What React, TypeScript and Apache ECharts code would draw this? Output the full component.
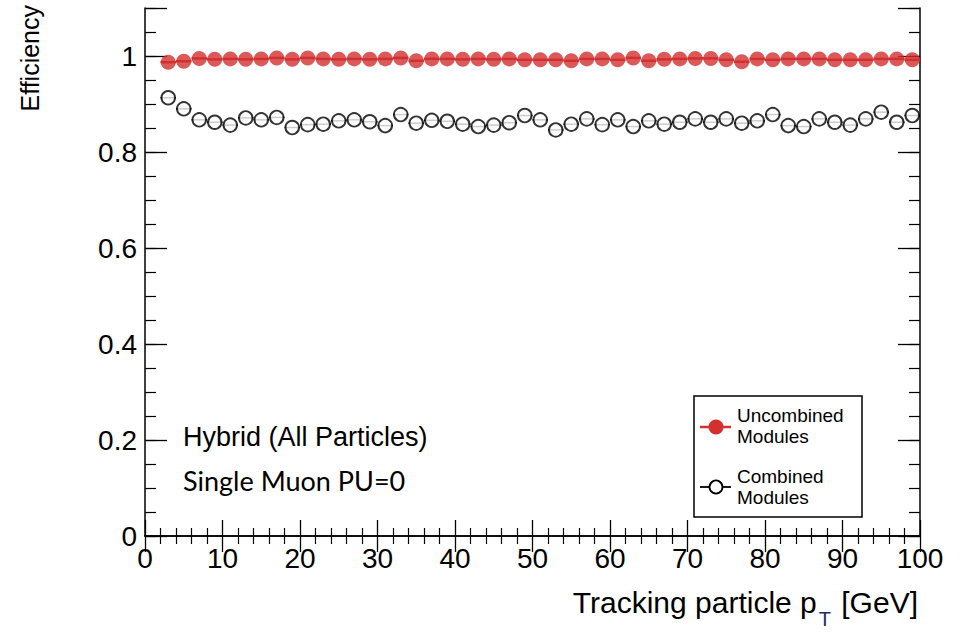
import React, { useEffect, useRef } from "react";
import * as echarts from "echarts";

const ptValues = [3, 5, 7, 9, 11, 13, 15, 17, 19, 21, 23, 25, 27, 29, 31, 33, 35, 37, 39, 41, 43, 45, 47, 49, 51, 53, 55, 57, 59, 61, 63, 65, 67, 69, 71, 73, 75, 77, 79, 81, 83, 85, 87, 89, 91, 93, 95, 97, 99];

const uncombined = [0.987, 0.989, 0.995, 0.993, 0.994, 0.993, 0.994, 0.996, 0.993, 0.996, 0.994, 0.993, 0.994, 0.993, 0.994, 0.996, 0.990, 0.994, 0.994, 0.993, 0.994, 0.993, 0.994, 0.992, 0.992, 0.992, 0.990, 0.994, 0.994, 0.992, 0.996, 0.990, 0.993, 0.994, 0.995, 0.995, 0.992, 0.988, 0.994, 0.992, 0.994, 0.994, 0.994, 0.992, 0.992, 0.992, 0.994, 0.994, 0.992];

const combined = [0.913, 0.890, 0.867, 0.862, 0.856, 0.871, 0.867, 0.872, 0.851, 0.857, 0.858, 0.865, 0.867, 0.863, 0.855, 0.878, 0.860, 0.866, 0.864, 0.858, 0.853, 0.856, 0.861, 0.876, 0.867, 0.846, 0.858, 0.869, 0.857, 0.867, 0.853, 0.865, 0.858, 0.862, 0.869, 0.862, 0.869, 0.860, 0.865, 0.878, 0.855, 0.853, 0.869, 0.862, 0.856, 0.869, 0.883, 0.862, 0.876];

const binHalfWidth = 1;
const xTicks = { min: 0, max: 100, interval: 10 };
const yTicks = { min: 0, max: 1.1, interval: 0.2, minorInterval: 0.05 };

const RED = "#d3302f";
const FONT = "Liberation Sans";

export default function App() {
  const ref = useRef<HTMLDivElement>(null);

  useEffect(() => {
    if (!ref.current) return;
    const chart = echarts.init(ref.current, null, { renderer: "svg" });

    const xyRed = ptValues.map((x, i) => [x, uncombined[i]]);
    const xyBlack = ptValues.map((x, i) => [x, combined[i]]);

    const errBar = (color: string, width: number) => (params: any, api: any) => {
      const x = api.value(0);
      const y = api.value(1);
      const p1 = api.coord([x - binHalfWidth, y]);
      const p2 = api.coord([x + binHalfWidth, y]);
      return {
        type: "line",
        shape: { x1: p1[0], y1: p1[1], x2: p2[0], y2: p2[1] },
        style: { stroke: color, lineWidth: width },
      };
    };

    const axisLine = { show: true, lineStyle: { color: "#000", width: 1.5 } };

    const xBase = {
      type: "value",
      min: xTicks.min,
      max: xTicks.max,
      interval: xTicks.interval,
      axisLine,
      axisTick: { show: true, inside: true, length: 16, lineStyle: { color: "#000", width: 1.3 } },
      minorTick: { show: true, splitNumber: 5, length: 8, lineStyle: { color: "#000", width: 1.2 } },
      splitLine: { show: false },
      minorSplitLine: { show: false },
    };

    const yMajor = {
      type: "value",
      min: yTicks.min,
      max: yTicks.max,
      interval: yTicks.interval,
      axisLine,
      axisTick: { show: true, inside: true, length: 22, lineStyle: { color: "#000", width: 1.3 } },
      splitLine: { show: false },
    };
    const yMinor = {
      type: "value",
      min: yTicks.min,
      max: yTicks.max,
      interval: yTicks.minorInterval,
      axisLine: { show: false },
      axisTick: { show: true, inside: true, length: 11, lineStyle: { color: "#000", width: 1.2 } },
      axisLabel: { show: false },
      splitLine: { show: false },
    };

    chart.setOption({
      animation: false,
      backgroundColor: "#fff",
      grid: { left: 145, right: 47, top: 8, bottom: 96, containLabel: false },
      xAxis: [
        {
          ...xBase,
          position: "bottom",
          axisLabel: { show: true, color: "#000", fontSize: 28, fontFamily: FONT, margin: 8 },
        },
        { ...xBase, position: "top", axisLabel: { show: false } },
      ],
      yAxis: [
        {
          ...yMajor,
          position: "left",
          axisLabel: {
            show: true,
            color: "#000",
            fontSize: 28,
            fontFamily: FONT,
            margin: 8,
            formatter: (v: number) => (v > 1.05 ? "" : String(Math.round(v * 10) / 10)),
          },
        },
        { ...yMinor, position: "left" },
        { ...yMajor, position: "right", axisLabel: { show: false } },
        { ...yMinor, position: "right" },
      ],
      series: [
        {
          type: "custom",
          name: "Combined bars",
          renderItem: errBar("#000", 1.5),
          data: xyBlack,
          z: 1,
        },
        {
          type: "scatter",
          name: "Combined Modules",
          data: xyBlack,
          symbol: "circle",
          symbolSize: 13.5,
          itemStyle: { color: "#fff", borderColor: "#000", borderWidth: 1.9 },
          z: 2,
        },
        {
          type: "custom",
          name: "Uncombined bars",
          renderItem: errBar(RED, 2.5),
          data: xyRed,
          z: 3,
        },
        {
          type: "scatter",
          name: "Uncombined Modules",
          data: xyRed,
          symbol: "circle",
          symbolSize: 15,
          itemStyle: { color: RED },
          z: 4,
        },
      ],
      graphic: [
        {
          type: "text",
          x: 30,
          y: 5,
          rotation: Math.PI / 2,
          style: {
            text: "Efficiency",
            fill: "#000",
            font: `25px "${FONT}"`,
            align: "right",
            verticalAlign: "middle",
          },
        },
        {
          type: "text",
          x: 918,
          y: 587,
          style: {
            text: "{a|Tracking particle p}{s|T}{a| [GeV]}",
            align: "right",
            verticalAlign: "top",
            rich: {
              a: { fontSize: 30, fontFamily: FONT, fill: "#000", lineHeight: 42, verticalAlign: "top" },
              s: { fontSize: 20, fontFamily: FONT, fill: "#1a2a6a", lineHeight: 42, verticalAlign: "bottom", padding: [0, 2, 0, 2] },
            },
          },
        },
        {
          type: "text",
          x: 183,
          y: 437,
          style: {
            text: "Hybrid (All Particles)",
            fill: "#000",
            font: `27px "${FONT}"`,
            verticalAlign: "middle",
          },
        },
        {
          type: "text",
          x: 183,
          y: 480,
          style: {
            text: "Single Muon PU=0",
            fill: "#000",
            font: `27px "Lato"`,
            verticalAlign: "middle",
          },
        },
        {
          type: "rect",
          shape: { x: 694, y: 396, width: 168, height: 121 },
          style: { fill: "#fff", stroke: "#000", lineWidth: 1.5 },
          z: 10,
        },
        {
          type: "line",
          shape: { x1: 700, y1: 427, x2: 731, y2: 427 },
          style: { stroke: RED, lineWidth: 2.5 },
          z: 11,
        },
        {
          type: "circle",
          shape: { cx: 716, cy: 427, r: 7.5 },
          style: { fill: RED },
          z: 12,
        },
        {
          type: "line",
          shape: { x1: 700, y1: 487, x2: 731, y2: 487 },
          style: { stroke: "#000", lineWidth: 1.8 },
          z: 11,
        },
        {
          type: "circle",
          shape: { cx: 716, cy: 487, r: 6.5 },
          style: { fill: "#fff", stroke: "#000", lineWidth: 1.8 },
          z: 12,
        },
        {
          type: "text",
          x: 737,
          y: 426,
          z: 12,
          style: {
            text: "Uncombined\nModules",
            fill: "#000",
            font: `19px "${FONT}"`,
            lineHeight: 21,
            verticalAlign: "middle",
          },
        },
        {
          type: "text",
          x: 737,
          y: 487,
          z: 12,
          style: {
            text: "Combined\nModules",
            fill: "#000",
            font: `19px "${FONT}"`,
            lineHeight: 21,
            verticalAlign: "middle",
          },
        },
      ],
    });

    return () => chart.dispose();
  }, []);

  return (
    <div
      ref={ref}
      style={{ position: "fixed", left: 0, top: 0, width: 967, height: 632, background: "#fff" }}
    />
  );
}
